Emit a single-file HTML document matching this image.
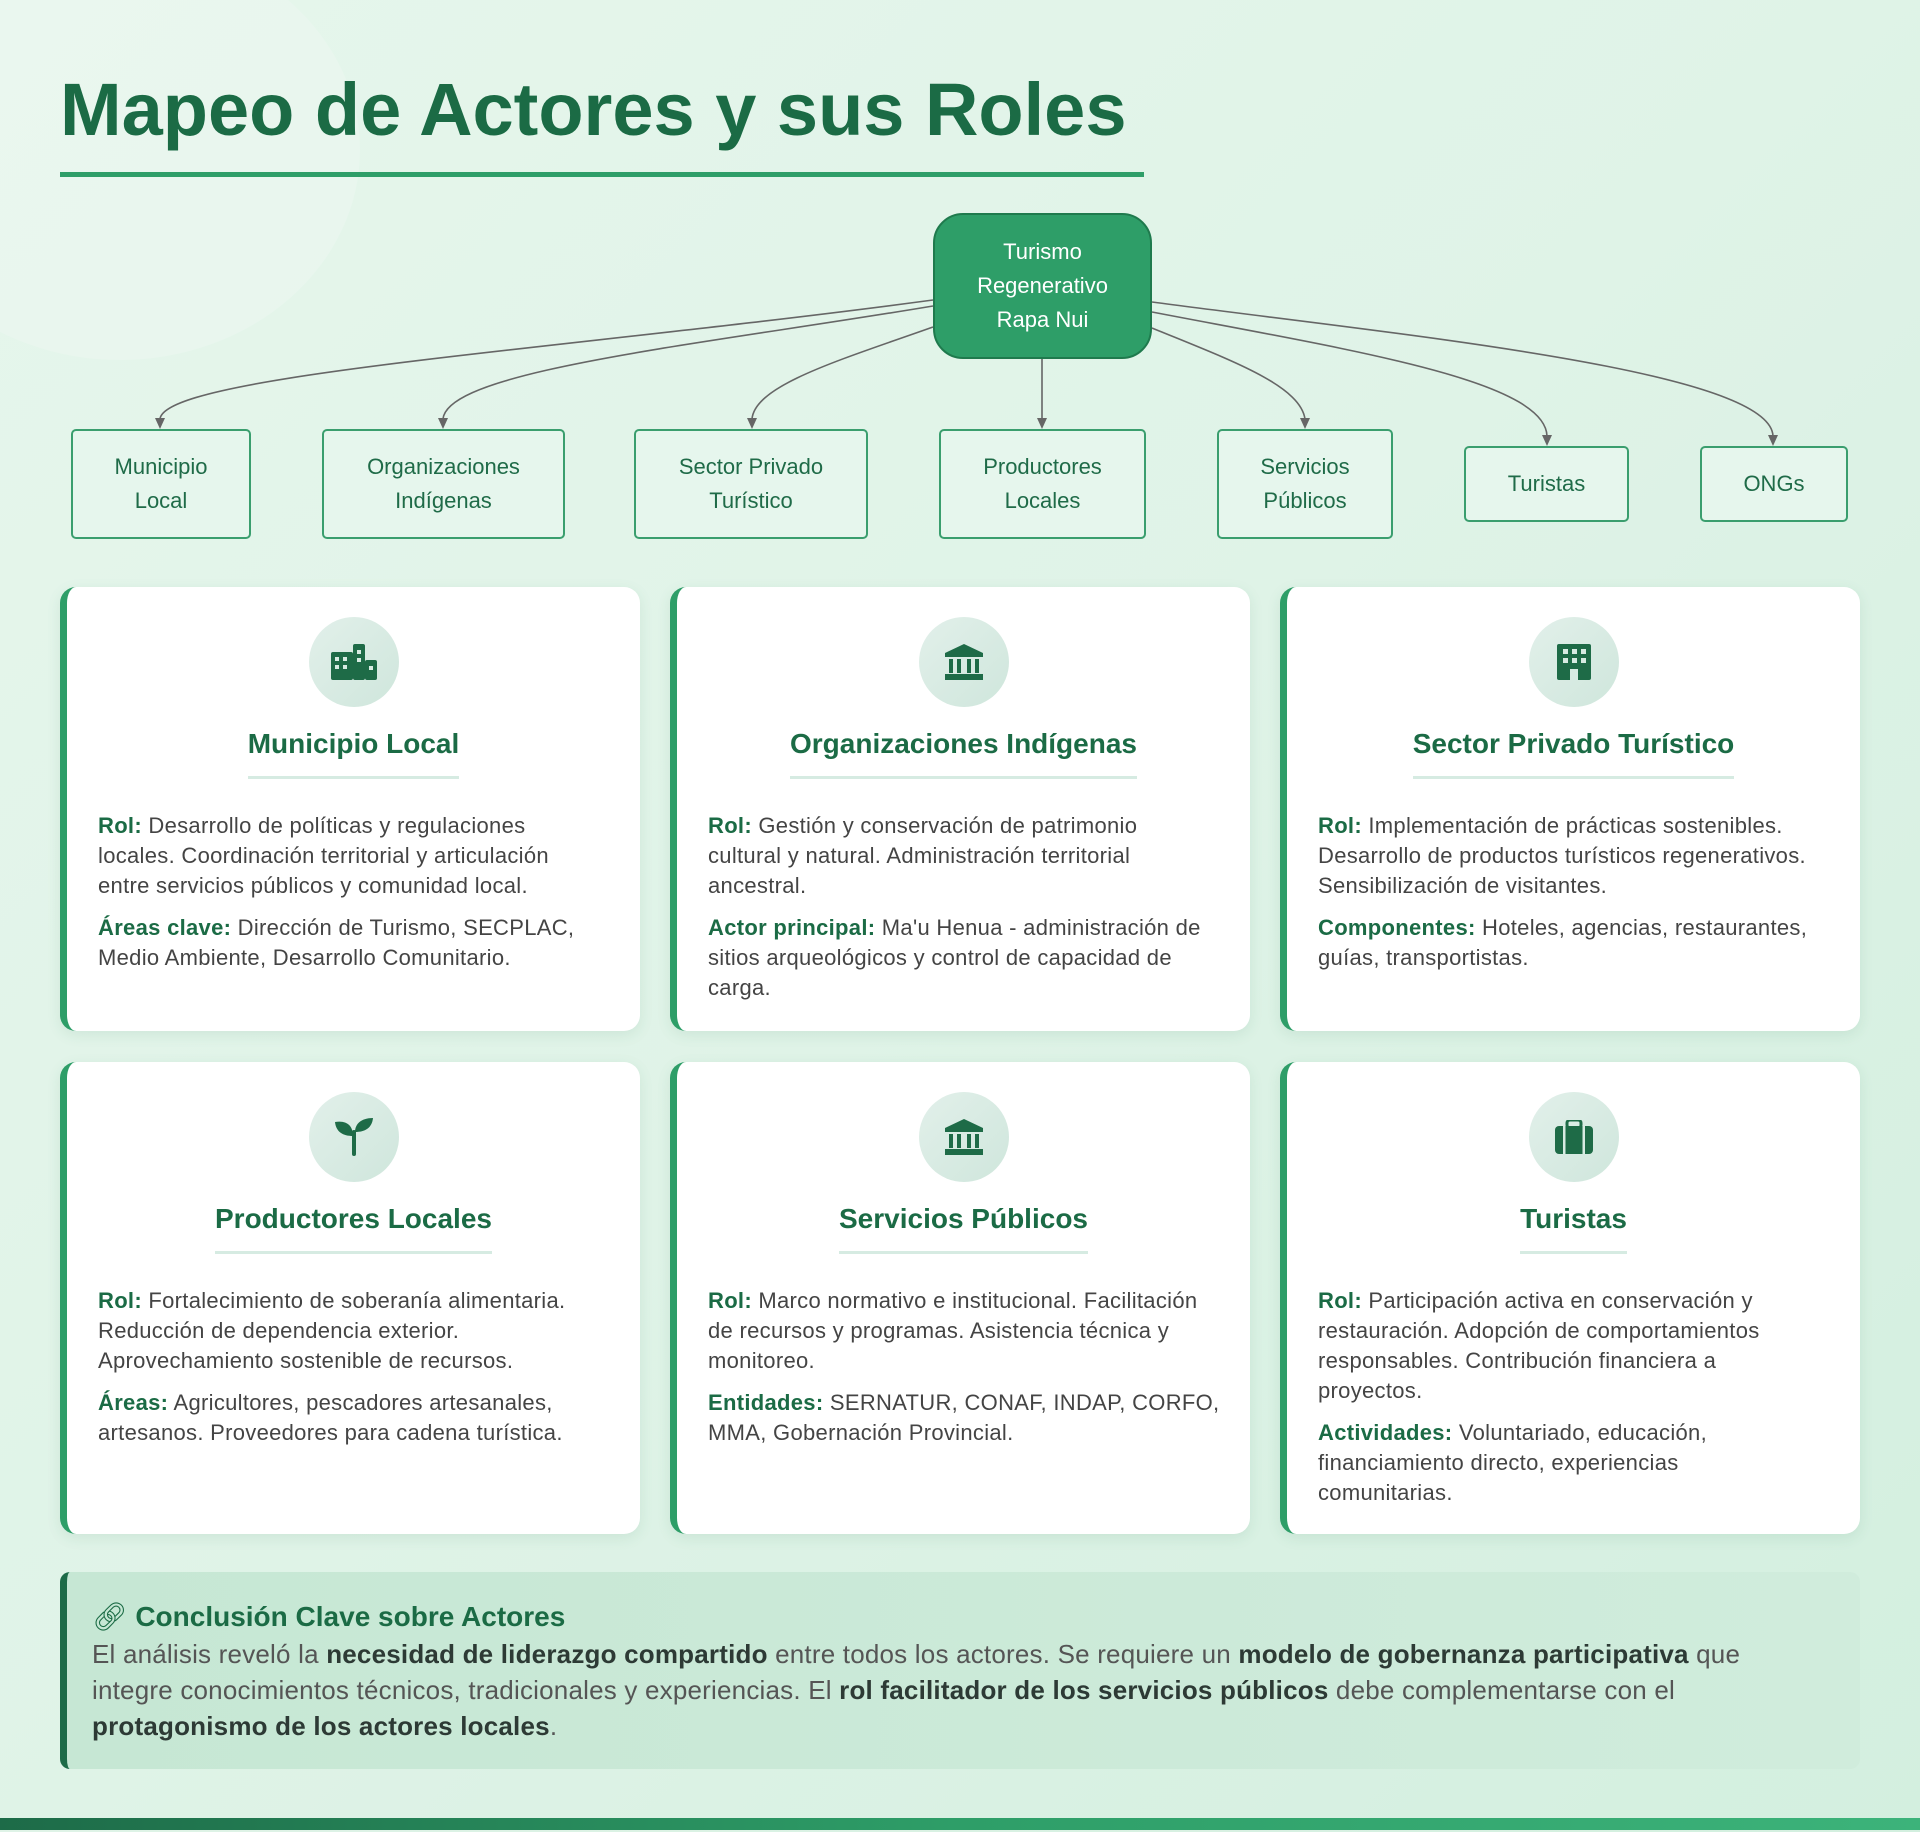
<!DOCTYPE html>
<html><head><meta charset="utf-8"><style>
*{margin:0;padding:0;box-sizing:border-box}
html,body{width:1920px;height:1832px;overflow:hidden}
body{background:linear-gradient(135deg,#e6f6ec 0%,#dff3e7 50%,#d3efdf 100%);font-family:"Liberation Sans",sans-serif;position:relative}
.blob{position:absolute;border-radius:50%;background:rgba(255,255,255,0.18)}
h1{position:absolute;left:60px;top:67px;font-size:74px;font-weight:bold;color:#1b6b45;letter-spacing:0px;white-space:nowrap}
.uline{position:absolute;left:60px;top:172px;width:1084px;height:5px;background:#2e9e68}
.center{position:absolute;left:933px;top:213px;width:219px;height:146px;background:#2e9e68;border:2px solid #1f7a4d;border-radius:30px;color:#fff;font-size:22px;line-height:34px;text-align:center;padding-top:20px}
.ch{position:absolute;background:#e6f6ed;border:2px solid #3a9e6e;border-radius:5px;color:#1f6b48;font-size:22px;line-height:34px;text-align:center;display:flex;align-items:center;justify-content:center}
svg.con{position:absolute;left:0;top:0}
.card{position:absolute;width:580px;background:#fff;border-radius:16px;border-left:7px solid #2e9e68;box-shadow:0 4px 14px rgba(40,120,80,0.10)}
.ic{position:absolute;left:50%;top:30px;margin-left:-45px;width:90px;height:90px;border-radius:50%;background:linear-gradient(135deg,#e2f0ea,#cfe6dc);display:flex;align-items:center;justify-content:center}
.ct{position:absolute;left:0;right:0;top:141px;text-align:center}
.ct span{display:inline-block;font-size:28px;font-weight:bold;color:#1b6b45;padding-bottom:16px;border-bottom:3px solid #d6ebe2}
.tx{position:absolute;left:31px;top:224px;font-size:22px;letter-spacing:0.3px;line-height:30px;color:#444;white-space:nowrap}
.tx p{margin-bottom:12px}
.tx b{color:#1b6b45}
.concl{position:absolute;left:60px;top:1572px;width:1800px;height:197px;background:linear-gradient(90deg,#c6e7d4,#d0ecdc);border-left:7px solid #1d6b48;border-radius:10px}
.concl h2{position:absolute;left:25px;top:28px;font-size:28px;color:#1b6b45;white-space:nowrap}
.concl .b{position:absolute;left:25px;top:64px;font-size:26px;line-height:36px;color:#555;white-space:nowrap;letter-spacing:0.2px}
.concl .b b{color:#2d3a35}
.bar{position:absolute;left:0;top:1818px;width:1920px;height:12px;background:linear-gradient(90deg,#1d6b48,#2e9e68,#3cb37a)}
</style></head><body>
<div class="blob" style="left:-120px;top:-60px;width:480px;height:420px"></div>
<h1>Mapeo de Actores y sus Roles</h1>
<div class="uline"></div>

<svg class="con" width="1920" height="560">
<g fill="none" stroke="#666" stroke-width="1.6">
<path d="M933 300 C560 350,165 375,160 419"/>
<path d="M933 306 C700 345,448 370,443 419"/>
<path d="M933 327 C840 360,755 385,752 419"/>
<path d="M1042 359 L1042 419"/>
<path d="M1152 328 C1230 360,1300 385,1305 419"/>
<path d="M1152 312 C1350 350,1545 380,1547 436"/>
<path d="M1152 302 C1400 335,1770 370,1773 436"/>
</g>
<g fill="#666">
<path d="M155 418 L165 418 L160 429z"/>
<path d="M438 418 L448 418 L443 429z"/>
<path d="M747 418 L757 418 L752 429z"/>
<path d="M1037 418 L1047 418 L1042 429z"/>
<path d="M1300 418 L1310 418 L1305 429z"/>
<path d="M1542 435 L1552 435 L1547 446z"/>
<path d="M1768 435 L1778 435 L1773 446z"/>
</g>
</svg>
<div class="center">Turismo<br>Regenerativo<br>Rapa Nui</div>
<div class="ch" style="left:71px;top:429px;width:180px;height:110px">Municipio<br>Local</div>
<div class="ch" style="left:322px;top:429px;width:243px;height:110px">Organizaciones<br>Indígenas</div>
<div class="ch" style="left:634px;top:429px;width:234px;height:110px">Sector Privado<br>Turístico</div>
<div class="ch" style="left:939px;top:429px;width:207px;height:110px">Productores<br>Locales</div>
<div class="ch" style="left:1217px;top:429px;width:176px;height:110px">Servicios<br>Públicos</div>
<div class="ch" style="left:1464px;top:446px;width:165px;height:76px">Turistas</div>
<div class="ch" style="left:1700px;top:446px;width:148px;height:76px">ONGs</div>

<div class="card" style="left:60px;top:587px;height:444px">
<div class="ic"><svg width="46" height="36" viewBox="0 0 46 36"><g fill="#1e6b47"><rect x="0" y="8" width="22" height="28" rx="2"/><rect x="22" y="0" width="12" height="36" rx="2"/><rect x="34" y="16" width="12" height="20" rx="2"/></g><g fill="#d7ebe2"><rect x="4" y="13" width="4" height="4"/><rect x="12" y="13" width="4" height="4"/><rect x="4" y="21" width="4" height="4"/><rect x="12" y="21" width="4" height="4"/><rect x="26" y="6" width="4" height="4"/><rect x="26" y="14" width="4" height="4"/><rect x="38" y="22" width="4" height="4"/></g></svg></div>
<div class="ct"><span>Municipio Local</span></div>
<div class="tx"><p><b>Rol:</b> Desarrollo de políticas y regulaciones<br>locales. Coordinación territorial y articulación<br>entre servicios públicos y comunidad local.</p><p><b>Áreas clave:</b> Dirección de Turismo, SECPLAC,<br>Medio Ambiente, Desarrollo Comunitario.</p></div>
</div>
<div class="card" style="left:670px;top:587px;height:444px">
<div class="ic"><svg width="38" height="36" viewBox="0 0 38 36"><g fill="#1e6b47"><path d="M19 0 L38 9 L38 13 L0 13 L0 9z"/><rect x="4" y="15" width="4" height="14"/><rect x="12" y="15" width="4" height="14"/><rect x="22" y="15" width="4" height="14"/><rect x="30" y="15" width="4" height="14"/><rect x="0" y="30" width="38" height="6"/></g></svg></div>
<div class="ct"><span>Organizaciones Indígenas</span></div>
<div class="tx"><p><b>Rol:</b> Gestión y conservación de patrimonio<br>cultural y natural. Administración territorial<br>ancestral.</p><p><b>Actor principal:</b> Ma'u Henua - administración de<br>sitios arqueológicos y control de capacidad de<br>carga.</p></div>
</div>
<div class="card" style="left:1280px;top:587px;height:444px">
<div class="ic"><svg width="34" height="36" viewBox="0 0 34 36"><rect width="34" height="36" rx="2" fill="#1e6b47"/><g fill="#d7ebe2"><rect x="6" y="5" width="5" height="5"/><rect x="15" y="5" width="5" height="5"/><rect x="24" y="5" width="5" height="5"/><rect x="6" y="14" width="5" height="5"/><rect x="15" y="14" width="5" height="5"/><rect x="24" y="14" width="5" height="5"/><rect x="13" y="25" width="8" height="11"/></g></svg></div>
<div class="ct"><span>Sector Privado Turístico</span></div>
<div class="tx"><p><b>Rol:</b> Implementación de prácticas sostenibles.<br>Desarrollo de productos turísticos regenerativos.<br>Sensibilización de visitantes.</p><p><b>Componentes:</b> Hoteles, agencias, restaurantes,<br>guías, transportistas.</p></div>
</div>

<div class="card" style="left:60px;top:1062px;height:472px">
<div class="ic"><svg width="38" height="38" viewBox="0 0 38 38"><g fill="#1e6b47"><path d="M0 4 C12 2,18 8,18 18 C8 18,1 14,0 4z"/><path d="M38 0 C26 0,20 6,20 14 C30 14,37 10,38 0z"/><rect x="17" y="12" width="4" height="26" rx="2"/></g></svg></div>
<div class="ct"><span>Productores Locales</span></div>
<div class="tx"><p><b>Rol:</b> Fortalecimiento de soberanía alimentaria.<br>Reducción de dependencia exterior.<br>Aprovechamiento sostenible de recursos.</p><p><b>Áreas:</b> Agricultores, pescadores artesanales,<br>artesanos. Proveedores para cadena turística.</p></div>
</div>
<div class="card" style="left:670px;top:1062px;height:472px">
<div class="ic"><svg width="38" height="36" viewBox="0 0 38 36"><g fill="#1e6b47"><path d="M19 0 L38 9 L38 13 L0 13 L0 9z"/><rect x="4" y="15" width="4" height="14"/><rect x="12" y="15" width="4" height="14"/><rect x="22" y="15" width="4" height="14"/><rect x="30" y="15" width="4" height="14"/><rect x="0" y="30" width="38" height="6"/></g></svg></div>
<div class="ct"><span>Servicios Públicos</span></div>
<div class="tx"><p><b>Rol:</b> Marco normativo e institucional. Facilitación<br>de recursos y programas. Asistencia técnica y<br>monitoreo.</p><p><b>Entidades:</b> SERNATUR, CONAF, INDAP, CORFO,<br>MMA, Gobernación Provincial.</p></div>
</div>
<div class="card" style="left:1280px;top:1062px;height:472px">
<div class="ic"><svg width="38" height="34" viewBox="0 0 38 34"><g fill="#1e6b47"><rect x="12" y="0" width="14" height="8" rx="3" fill="none" stroke="#1e6b47" stroke-width="3"/><rect x="0" y="6" width="38" height="28" rx="4"/></g><g fill="#d7ebe2"><rect x="8" y="6" width="2.5" height="28"/><rect x="27.5" y="6" width="2.5" height="28"/></g></svg></div>
<div class="ct"><span>Turistas</span></div>
<div class="tx"><p><b>Rol:</b> Participación activa en conservación y<br>restauración. Adopción de comportamientos<br>responsables. Contribución financiera a<br>proyectos.</p><p><b>Actividades:</b> Voluntariado, educación,<br>financiamiento directo, experiencias<br>comunitarias.</p></div>
</div>

<div class="concl">
<h2><span style="font-weight:normal">&#x1F517;&#xFE0E;</span> Conclusión Clave sobre Actores</h2>
<div class="b">El análisis reveló la <b>necesidad de liderazgo compartido</b> entre todos los actores. Se requiere un <b>modelo de gobernanza participativa</b> que<br>integre conocimientos técnicos, tradicionales y experiencias. El <b>rol facilitador de los servicios públicos</b> debe complementarse con el<br><b>protagonismo de los actores locales</b>.</div>
</div>
<div class="bar"></div>
</body></html>
